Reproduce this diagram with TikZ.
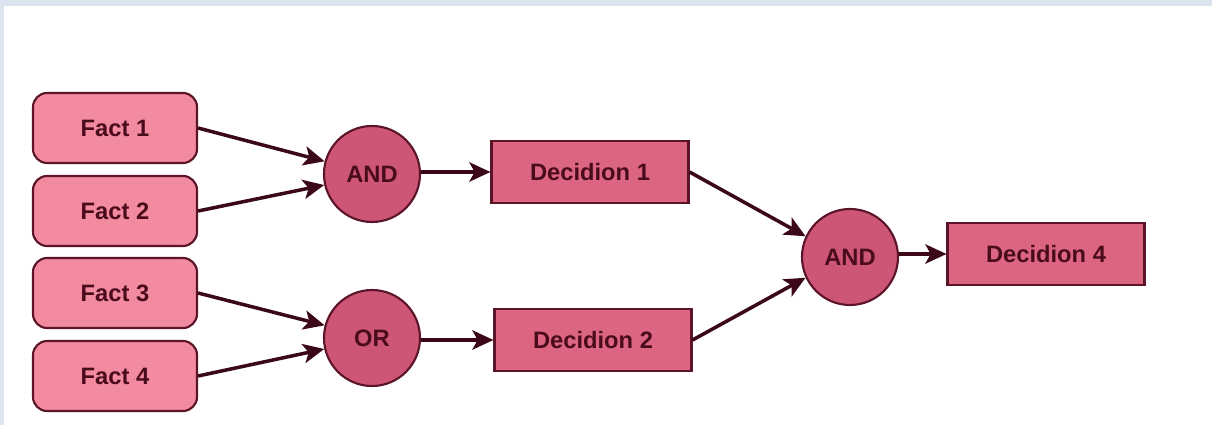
\documentclass[tikz,border=0pt]{standalone}
\usepackage{fontspec}
\setmainfont{Liberation Sans}
\usetikzlibrary{arrows.meta}
\definecolor{frameblue}{HTML}{DCE4EF}
\definecolor{factfill}{HTML}{F28AA0}
\definecolor{gatefill}{HTML}{CD5575}
\definecolor{decfill}{HTML}{DC6581}
\definecolor{edge}{HTML}{5C1428}
\definecolor{ink}{HTML}{4A0C1C}
\definecolor{wire}{HTML}{3A0816}
\tikzset{
  base/.style={draw=edge, line width=1.2pt, text=ink, font=\bfseries\fontsize{13.5}{16}\selectfont, inner sep=0pt},
  factbox/.style={base, fill=factfill, rounded corners=8pt, minimum width=164*0.02cm, minimum height=70*0.02cm},
  gate/.style={base, fill=gatefill, circle, minimum size=96*0.02cm},
  decbox/.style={base, fill=decfill, minimum width=197*0.02cm, minimum height=62*0.02cm},
  wirearrow/.style={draw=wire, line width=2pt, -{Stealth[length=12pt, width=11pt, inset=3pt]}}
}
\begin{document}
\begin{tikzpicture}[x=0.02cm, y=-0.02cm]
  % page frame
  \fill[frameblue] (0,0) rectangle (1212,425);
  \fill[white] (4,6) rectangle (1212,425);
  \useasboundingbox (0,0) rectangle (1212,425);

  % facts
  \node[factbox] (f1) at (115,128) {Fact 1};
  \node[factbox] (f2) at (115,211) {Fact 2};
  \node[factbox] (f3) at (115,293) {Fact 3};
  \node[factbox] (f4) at (115,376) {Fact 4};

  % gates
  \node[gate] (and1) at (372,174) {AND};
  \node[gate] (or1)  at (372,338) {OR};
  \node[gate] (and2) at (850,257) {AND};

  % decisions
  \node[decbox] (d1) at (590,172) {Decidion 1};
  \node[decbox] (d2) at (593,340) {Decidion 2};
  \node[decbox] (d4) at (1046,254) {Decidion 4};

  % connectors
  \draw[wirearrow] (f1.east) -- (and1.165);
  \draw[wirearrow] (f2.east) -- (and1.193);
  \draw[wirearrow] (f3.east) -- (or1.165);
  \draw[wirearrow] (f4.east) -- (or1.193);
  \draw[wirearrow] (and1.east |- d1.west) -- (d1.west);
  \draw[wirearrow] (or1.east |- d2.west) -- (d2.west);
  \draw[wirearrow] (d1.east) -- (and2.155);
  \draw[wirearrow] (d2.east) -- (and2.205);
  \draw[wirearrow] (and2.east |- d4.west) -- (d4.west);
\end{tikzpicture}
\end{document}
